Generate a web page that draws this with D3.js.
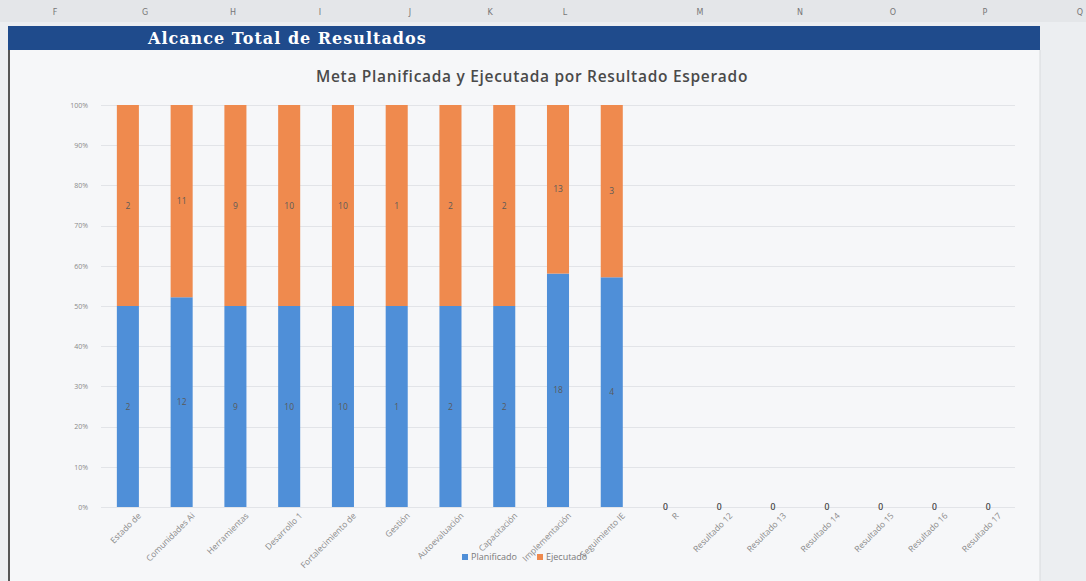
<!DOCTYPE html>
<html lang="es">
<head>
<meta charset="UTF-8">
<title>Alcance Total de Resultados</title>
<style>
  body { margin: 0; background: #eceef1; }
  svg { display: block; }
  .col-letter { font-family: "DejaVu Sans", sans-serif; font-size: 8px; fill: #777; text-anchor: middle; }
  .axis text { font-family: "Open Sans", sans-serif; font-size: 7px; fill: #8a8a8a; }
  .xaxis text { font-size: 8.5px; }
  .axis path, .axis line { display: none; }
  .grid line { stroke: #e2e4e8; stroke-width: 1px; }
  .val { font-family: "Open Sans", sans-serif; font-size: 8.5px; fill: #5a5a5a; text-anchor: middle; }
  .legend text { font-family: "Open Sans", sans-serif; font-size: 9px; fill: #7a7a7a; }
</style>
<script src="https://d3js.org/d3.v7.min.js"></script>
</head>
<body>
<div id="graph"></div>
<script>
// data
const categorias = [
  "Estado de", "Comunidades Ai", "Herramientas", "Desarrollo 1", "Fortalecimiento de",
  "Gestión", "Autoevaluación", "Capacitación", "Implementación", "Seguimiento IE",
  "R", "Resultado 12", "Resultado 13", "Resultado 14", "Resultado 15", "Resultado 16", "Resultado 17"
];
const planificado = [2, 12, 9, 10, 10, 1, 2, 2, 18, 4, 0, 0, 0, 0, 0, 0, 0];
const ejecutado   = [2, 11, 9, 10, 10, 1, 2, 2, 13, 3, 0, 0, 0, 0, 0, 0, 0];
const yTicks = [0, 0.1, 0.2, 0.3, 0.4, 0.5, 0.6, 0.7, 0.8, 0.9, 1];
const series = ["Planificado", "Ejecutado"];
const colores = ["#4f8fd8", "#ef8a4e"];
const columnas = ["F", "G", "H", "I", "J", "K", "L", "M", "N", "O", "P", "Q"];
const columnasX = [55, 145, 233, 320, 410, 490, 565, 700, 800, 893, 985, 1080];

const width = 1086, height = 581;
const svg = d3.select("#graph").append("svg")
  .attr("width", width).attr("height", height);

// spreadsheet column header row
svg.append("rect").attr("x", 0).attr("y", 0).attr("width", width).attr("height", 22).attr("fill", "#e4e6e9");
svg.selectAll(".col-letter")
  .data(columnas)
  .enter().append("text")
  .attr("class", "col-letter")
  .attr("x", (d, i) => columnasX[i])
  .attr("y", 15)
  .text(d => d);

// blue heading band
svg.append("rect").attr("x", 8).attr("y", 26).attr("width", 1032).attr("height", 24).attr("fill", "#1f4b8c");
svg.append("text")
  .attr("x", 148).attr("y", 44)
  .style("font-family", "'DejaVu Serif', 'Liberation Serif', serif")
  .style("font-weight", "bold")
  .style("font-size", "16px")
  .style("letter-spacing", "1px")
  .style("fill", "#ffffff")
  .text("Alcance Total de Resultados");

// chart area
svg.append("rect").attr("x", 8).attr("y", 50).attr("width", 1032).attr("height", 531).attr("fill", "#f6f7f9");
svg.append("line").attr("x1", 9).attr("x2", 9).attr("y1", 50).attr("y2", 581).attr("stroke", "#555").attr("stroke-width", 2);
svg.append("line").attr("x1", 1040).attr("x2", 1040).attr("y1", 50).attr("y2", 581).attr("stroke", "#d8dadd");

svg.append("text")
  .attr("x", 532).attr("y", 82)
  .attr("text-anchor", "middle")
  .style("font-family", "'Open Sans', sans-serif")
  .style("font-size", "15.5px")
  .style("font-weight", "600")
  .style("letter-spacing", "0.7px")
  .style("fill", "#4a4a4a")
  .text("Meta Planificada y Ejecutada por Resultado Esperado");

const margins = { top: 105, bottom: 74, left: 101, right: 71 };

const x = d3.scaleBand()
  .domain(categorias)
  .range([margins.left, width - margins.right])
  .paddingInner(0.59)
  .paddingOuter(0.295);

const y = d3.scaleLinear()
  .domain([0, 1])
  .range([height - margins.bottom, margins.top]);

// gridlines
svg.append("g").attr("class", "grid")
  .selectAll("line")
  .data(yTicks)
  .enter().append("line")
  .attr("x1", margins.left).attr("x2", width - margins.right)
  .attr("y1", d => Math.round(y(d)) + 0.5).attr("y2", d => Math.round(y(d)) + 0.5);

svg.append("g")
  .attr("class", "axis")
  .attr("transform", `translate(${margins.left - 10}, 0)`)
  .call(d3.axisLeft(y).tickValues(yTicks).tickFormat(d3.format(".0%")).tickSize(0));

// stacked percentages
const rows = categorias.map((c, i) => {
  const tot = planificado[i] + ejecutado[i];
  return { cat: c, Planificado: tot ? planificado[i] / tot : 0, Ejecutado: tot ? ejecutado[i] / tot : 0, p: planificado[i], e: ejecutado[i] };
});
const stacked = d3.stack().keys(series)(rows);

const layers = svg.selectAll(".layer")
  .data(stacked)
  .enter().append("g")
  .attr("class", "layer")
  .attr("fill", (d, i) => colores[i]);

layers.selectAll("rect")
  .data(d => d)
  .enter().append("rect")
  .attr("x", d => x(d.data.cat))
  .attr("width", x.bandwidth())
  .attr("y", d => y(d[1]))
  .attr("height", d => y(d[0]) - y(d[1]));

// value labels
stacked.forEach((layer, k) => {
  svg.append("g").selectAll("text")
    .data(layer)
    .enter().append("text")
    .attr("class", "val")
    .attr("x", d => x(d.data.cat) + x.bandwidth() / 2)
    .attr("y", d => (y(d[0]) + y(d[1])) / 2 + 3)
    .text(d => k === 0 ? d.data.p : d.data.e);
});

// category labels, rotated
svg.append("g")
  .attr("class", "axis xaxis")
  .attr("transform", `translate(8, ${height - margins.bottom})`)
  .call(d3.axisBottom(x).tickSize(0))
  .selectAll("text")
  .attr("dx", "-0.3em")
  .attr("dy", "0.9em")
  .style("text-anchor", "end")
  .attr("transform", "rotate(-45)");

// legend
const legend = svg.append("g").attr("class", "legend").attr("transform", "translate(465, 557)");
const lg = legend.selectAll("g")
  .data(series)
  .enter().append("g")
  .attr("transform", (d, i) => `translate(${i * 75}, 0)`);
lg.append("rect").attr("x", -3).attr("y", -3).attr("width", 6).attr("height", 6).attr("fill", (d, i) => colores[i]);
lg.append("text").attr("x", 6).attr("y", 3).text(d => d);
</script>
</body>
</html>
